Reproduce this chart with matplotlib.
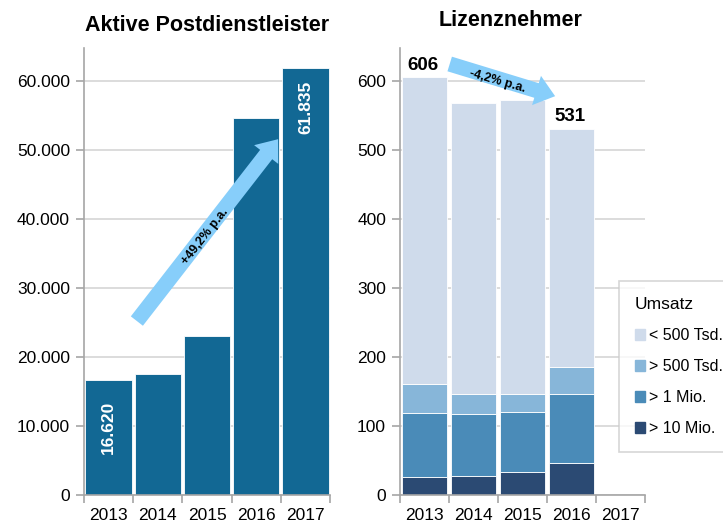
import matplotlib.pyplot as plt
from matplotlib.patches import FancyArrowPatch, Patch
from matplotlib.ticker import FuncFormatter

plt.rcParams['font.family'] = ['Liberation Sans', 'DejaVu Sans']

years = ['2013', '2014', '2015', '2016', '2017']
aktive = [16620, 17500, 23100, 54600, 61835]

liz_years = ['2013', '2014', '2015', '2016']
lt500 = [445, 422, 427, 346]
gt500 = [42, 29, 26, 39]
gt1m = [93, 90, 86, 100]
gt10m = [26, 27, 34, 46]
seg_labels = ['< 500 Tsd.', '> 500 Tsd.', '> 1 Mio.', '> 10 Mio.']
seg_colors = ['#cfdbeb', '#87b6d9', '#4a8bb8', '#2b4a73']

grid_c = '#d9d9d9'
spine_c = '#a6a6a6'

fig = plt.figure(figsize=(7.23, 5.24), dpi=100)
ax1 = fig.add_axes([84/723, 1-495/524, 246/723, 447/524])
ax2 = fig.add_axes([400/723, 1-495/524, 245/723, 447/524])


def style(ax, n):
    ax.set_xlim(-0.5, n - 0.5)
    for s in ['top', 'right']:
        ax.spines[s].set_visible(False)
    for s in ['left', 'bottom']:
        ax.spines[s].set_color(spine_c)
        ax.spines[s].set_linewidth(1.2)
    ax.yaxis.grid(True, color=grid_c, linewidth=1.3)
    ax.set_axisbelow(True)
    ax.set_xticks(range(n))
    ax.set_xticklabels(years)
    ax.set_xticks([i - 0.5 for i in range(n + 1)], minor=True)
    ax.tick_params(axis='x', which='major', length=0, labelsize=12.5, pad=9)
    ax.tick_params(axis='x', which='minor', length=6, color=spine_c, width=1.2)
    ax.tick_params(axis='y', length=6, color=spine_c, width=1.2, labelsize=12.5, pad=4)


# left chart
x1 = range(len(years))
ax1.bar(x1, aktive, width=0.94, color='#126894', edgecolor='white', linewidth=0.6)
style(ax1, len(years))
ax1.set_ylim(0, 64800)
ax1.set_yticks(range(0, 60001, 10000))
ax1.yaxis.set_major_formatter(FuncFormatter(lambda v, p: f'{int(v):,}'.replace(',', '.')))
ax1.set_title('Aktive Postdienstleister', fontsize=15.5, fontweight='bold', pad=12)
ax1.text(0, 9800, '16.620', rotation=90, color='white', fontweight='bold',
         fontsize=12.5, ha='center', va='center')
ax1.text(4, 56200, '61.835', rotation=90, color='white', fontweight='bold',
         fontsize=12.5, ha='center', va='center')
ax1.add_patch(FancyArrowPatch((0.54, 24900), (3.48, 51900),
                              arrowstyle='simple,head_width=22,head_length=14,tail_width=11',
                              mutation_scale=1, color='#87cefa', lw=0, zorder=5))
ax1.text(1.96, 37400, '+49,2% p.a.', rotation=52, fontsize=9, fontweight='bold',
         ha='center', va='center', zorder=6)

# right chart
x2 = range(len(liz_years))
bottom = [0] * len(liz_years)
for vals, col, lab in zip([gt10m, gt1m, gt500, lt500], seg_colors[::-1], seg_labels[::-1]):
    ax2.bar(x2, vals, bottom=bottom, width=0.93, color=col, edgecolor='white',
            linewidth=0.6, label=lab)
    bottom = [b + v for b, v in zip(bottom, vals)]
style(ax2, len(years))
ax2.set_ylim(0, 648)
ax2.set_yticks(range(0, 601, 100))
ax2.set_title('Lizenznehmer', fontsize=15.5, fontweight='bold', pad=16, x=0.45)
ax2.text(-0.03, 622, str(bottom[0]), fontsize=13.5, fontweight='bold', ha='center', va='center')
ax2.text(2.97, 549, str(bottom[3]), fontsize=13.5, fontweight='bold', ha='center', va='center')
ax2.add_patch(FancyArrowPatch((0.46, 626), (2.72, 577),
                              arrowstyle='simple,head_width=22,head_length=14,tail_width=11',
                              mutation_scale=1, color='#87cefa', lw=0, zorder=5))
ax2.text(1.48, 600, '-4,2% p.a.', rotation=-16, fontsize=9, fontweight='bold',
         ha='center', va='center', zorder=6)

handles = [Patch(color=c, label=l) for c, l in zip(seg_colors, seg_labels)]
leg = fig.legend(handles=handles, title='Umsatz', loc='upper left',
                 bbox_to_anchor=(619/723, 1-281/524), borderaxespad=0,
                 fontsize=11.5, title_fontsize=12.5,
                 frameon=True, fancybox=False, edgecolor='#cccccc', shadow=False,
                 handlelength=0.65, handleheight=0.65, handletextpad=0.2,
                 labelspacing=1.0, borderpad=1.0, alignment='left')
leg.get_frame().set_linewidth(1.2)

fig.savefig('out.png', dpi=100)
